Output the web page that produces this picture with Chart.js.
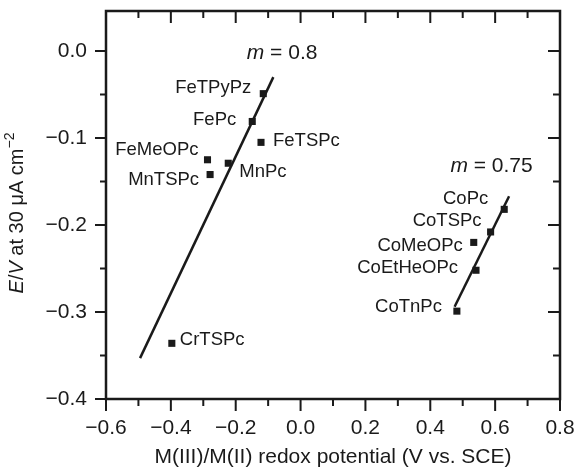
<!DOCTYPE html>
<html>
<head>
<meta charset="utf-8">
<script src="https://cdn.jsdelivr.net/npm/chart.js@4.4.0/dist/chart.umd.min.js"></script>
<style>
  html, body { margin: 0; padding: 0; background: #fff; }
  #wrap { width: 575px; height: 470px; }
</style>
</head>
<body>
<div id="wrap"><canvas id="chart"></canvas></div>
<script>
// data
var names     = ['FeTPyPz', 'FePc', 'FeTSPc', 'FeMeOPc', 'MnTSPc', 'MnPc', 'CrTSPc',
                 'CoPc', 'CoTSPc', 'CoMeOPc', 'CoEtHeOPc', 'CoTnPc'];
var redox     = [-0.115, -0.149, -0.122, -0.287, -0.279, -0.223, -0.397,
                 0.628, 0.586, 0.534, 0.541, 0.482];
var potential = [-0.049, -0.081, -0.105, -0.125, -0.142, -0.129, -0.336,
                 -0.182, -0.208, -0.220, -0.252, -0.299];

// the two fitted lines (end points)
var fitFeX = [-0.495, -0.084];
var fitFeY = [-0.353, -0.030];
var fitCoX = [0.475, 0.643];
var fitCoY = [-0.294, -0.167];

var slopes  = ['0.8', '0.75'];
var slopeX  = [-0.057, 0.589];
var slopeY  = [-0.002, -0.132];

var xTicks = [-0.6, -0.4, -0.2, 0.0, 0.2, 0.4, 0.6, 0.8];
var xTickLabels = ['\u22120.6', '\u22120.4', '\u22120.2', '0.0', '0.2', '0.4', '0.6', '0.8'];
var yTicks = [-0.4, -0.3, -0.2, -0.1, 0.0];
var yTickLabels = ['\u22120.4', '\u22120.3', '\u22120.2', '\u22120.1', '0.0'];

// label placement (pixel offsets from the marker, and text alignment)
var labelDx    = [-12, -16, 12, -9, -11, 11, 8, -16, -9, -11, -18, -15];
var labelDy    = [-6, -2, -1, -10, 5, 9, -3, -10, -11, 3, -2, -4];
var labelAlign = ['right', 'right', 'left', 'right', 'right', 'left', 'left',
                  'right', 'right', 'right', 'right', 'right'];

var FONT = '"Liberation Sans", Arial, Helvetica, sans-serif';
var INK = '#1a1a1a';

function pts(xs, ys) {
  var out = [];
  for (var i = 0; i < xs.length; i++) out.push({x: xs[i], y: ys[i]});
  return out;
}

function noPad(s) {
  s.paddingTop = 0; s.paddingBottom = 0; s.paddingLeft = 0; s.paddingRight = 0;
}

var decor = {
  id: 'decor',
  afterDatasetsDraw: function(chart) {
    var ctx = chart.ctx, a = chart.chartArea;
    var xs = chart.scales.x, ys = chart.scales.y;
    ctx.save();
    ctx.strokeStyle = INK;
    ctx.fillStyle = INK;

    // ticks: bottom/left point outward, top/right point inward
    ctx.lineWidth = 2;
    ctx.beginPath();
    for (var i = 0; i < xTicks.length; i++) {
      var px = xs.getPixelForValue(xTicks[i]);
      ctx.moveTo(px, a.bottom); ctx.lineTo(px, a.bottom + 12);
      ctx.moveTo(px, a.top); ctx.lineTo(px, a.top + 12);
      if (i < xTicks.length - 1) {
        var mx = xs.getPixelForValue((xTicks[i] + xTicks[i + 1]) / 2);
        ctx.moveTo(mx, a.bottom); ctx.lineTo(mx, a.bottom + 7);
        ctx.moveTo(mx, a.top); ctx.lineTo(mx, a.top + 7);
      }
    }
    for (var j = 0; j < yTicks.length; j++) {
      var py = ys.getPixelForValue(yTicks[j]);
      ctx.moveTo(a.left, py); ctx.lineTo(a.left - 11, py);
      ctx.moveTo(a.right, py); ctx.lineTo(a.right - 12, py);
      if (j < yTicks.length - 1) {
        var my = ys.getPixelForValue((yTicks[j] + yTicks[j + 1]) / 2);
        ctx.moveTo(a.left, my); ctx.lineTo(a.left - 6, my);
        ctx.moveTo(a.right, my); ctx.lineTo(a.right - 7, my);
      }
    }
    ctx.stroke();

    // frame
    ctx.lineWidth = 2.5;
    ctx.strokeRect(a.left, a.top, a.right - a.left, a.bottom - a.top);

    // point labels
    ctx.font = '18.5px ' + FONT;
    ctx.textBaseline = 'middle';
    for (var k = 0; k < names.length; k++) {
      ctx.textAlign = labelAlign[k];
      ctx.fillText(names[k],
        xs.getPixelForValue(redox[k]) + labelDx[k],
        ys.getPixelForValue(potential[k]) + labelDy[k]);
    }

    // slope labels "m = ..."
    for (var s = 0; s < slopes.length; s++) {
      var parts = [['m', 'italic 21px ' + FONT], [' = ' + slopes[s], '21px ' + FONT]];
      drawParts(ctx, parts, xs.getPixelForValue(slopeX[s]), ys.getPixelForValue(slopeY[s]));
    }

    // y axis title with italic E and V
    ctx.translate(17, 213);
    ctx.rotate(-Math.PI / 2);
    drawParts(ctx, [
      ['E', 'italic 20px ' + FONT], ['/', '20px ' + FONT], ['V', 'italic 20px ' + FONT],
      [' at 30 \u03bcA cm', '20px ' + FONT], ['\u22122', '14px ' + FONT, -7]
    ], 0, 0);
    ctx.restore();
  }
};

function drawParts(ctx, parts, cx, cy) {
  var w = 0, i;
  for (i = 0; i < parts.length; i++) { ctx.font = parts[i][1]; w += ctx.measureText(parts[i][0]).width; }
  var x = cx - w / 2;
  ctx.textAlign = 'left';
  ctx.textBaseline = 'middle';
  for (i = 0; i < parts.length; i++) {
    ctx.font = parts[i][1];
    ctx.fillText(parts[i][0], x, cy + (parts[i][2] || 0));
    x += ctx.measureText(parts[i][0]).width;
  }
}

new Chart(document.getElementById('chart'), {
  type: 'scatter',
  data: {
    datasets: [
      { data: pts(fitFeX, fitFeY), showLine: true, borderColor: INK, borderWidth: 2.5, pointRadius: 0 },
      { data: pts(fitCoX, fitCoY), showLine: true, borderColor: INK, borderWidth: 2.5, pointRadius: 0 },
      { data: pts(redox, potential), pointStyle: 'rect', pointRadius: 5,
        backgroundColor: INK, borderColor: INK, borderWidth: 0 }
    ]
  },
  options: {
    responsive: true,
    maintainAspectRatio: false,
    animation: false,
    layout: { padding: { top: 11, right: 15, left: 0, bottom: 0 } },
    plugins: { legend: { display: false }, tooltip: { enabled: false } },
    scales: {
      x: {
        type: 'linear', min: -0.6, max: 0.8,
        afterBuildTicks: function(s) { s.ticks = xTicks.map(function(v) { return {value: v}; }); },
        afterFit: function(s) { s.height = 71; noPad(s); },
        grid: { display: false, drawTicks: false },
        border: { display: false },
        ticks: {
          padding: 17, color: INK, font: { family: FONT, size: 21 },
          callback: function(v, i) { return xTickLabels[i]; }
        },
        title: {
          display: true, text: 'M(III)/M(II) redox potential (V vs. SCE)',
          color: INK, font: { family: FONT, size: 21 }, padding: { top: 0, bottom: 0 }
        }
      },
      y: {
        type: 'linear', min: -0.4, max: 0.046,
        afterBuildTicks: function(s) { s.ticks = yTicks.map(function(v) { return {value: v}; }); },
        afterFit: function(s) { s.width = 106; noPad(s); },
        grid: { display: false, drawTicks: false },
        border: { display: false },
        ticks: {
          padding: 19, color: INK, font: { family: FONT, size: 21 },
          callback: function(v, i) { return yTickLabels[i]; }
        }
      }
    }
  },
  plugins: [decor]
});
</script>
</body>
</html>
